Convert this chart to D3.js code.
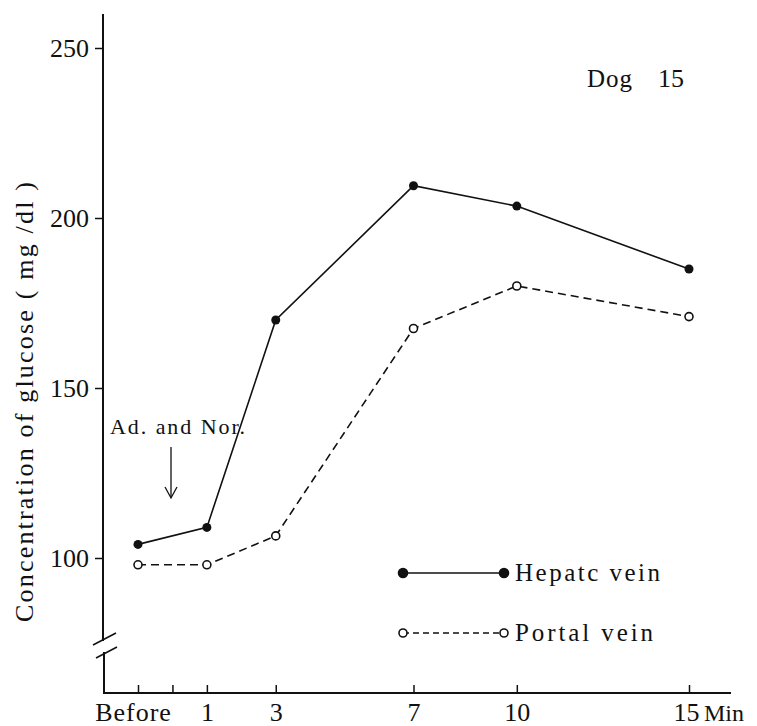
<!DOCTYPE html>
<html>
<head>
<meta charset="utf-8">
<script src="https://cdn.jsdelivr.net/npm/d3@7"></script>
<style>
    body { margin: 0; background: #fff; }
    text { font-family: "Liberation Serif", "DejaVu Serif", serif; fill: #111; }
</style>
</head>
<body>
<script>
// glucose, dog 15

var times = [-1, 1, 3, 7, 10, 15];
var hepatic = [104, 109, 170, 209.5, 203.5, 185];
var portal = [98, 98, 106.5, 167.5, 180, 171];

var xTicks = [-1, 0, 1, 3, 7, 10, 15];
var xTickLabels = ["Before", "", "1", "3", "7", "10", "15"];
var yTicks = [100, 150, 200, 250];

function draw_chart() {
    var width = 757;
    var height = 726;

    var svg = d3.select("body").append("svg")
                .attr("width", width)
                .attr("height", height);

    var x = d3.scaleLinear().domain([-1, 15]).range([138, 689]);
    var y = d3.scaleLinear().domain([100, 250]).range([558, 48]);

    var axisX = 103;
    var axisY = 693;

    // y axis (with break near the bottom)
    var yAxis = d3.axisLeft(y)
                  .tickValues(yTicks)
                  .tickSize(8)
                  .tickPadding(6)
                  .tickSizeOuter(0);

    var gy = svg.append("g")
                .attr("transform", "translate(" + axisX + ",0)")
                .call(yAxis);
    gy.select(".domain").remove();
    gy.selectAll(".tick line").attr("stroke", "#111").attr("stroke-width", 1.5);
    gy.selectAll(".tick text")
      .attr("font-size", 26)
      .attr("font-family", "Liberation Serif")
      .attr("fill", "#111");

    svg.append("line")
       .attr("x1", axisX).attr("x2", axisX)
       .attr("y1", 14).attr("y2", 641)
       .attr("stroke", "#111").attr("stroke-width", 2);
    svg.append("line")
       .attr("x1", axisX + 1).attr("x2", axisX + 1)
       .attr("y1", 652).attr("y2", axisY)
       .attr("stroke", "#111").attr("stroke-width", 2);

    // break marks
    svg.append("line")
       .attr("x1", 93).attr("y1", 645).attr("x2", 116).attr("y2", 633)
       .attr("stroke", "#111").attr("stroke-width", 1.5);
    svg.append("line")
       .attr("x1", 96).attr("y1", 658).attr("x2", 117).attr("y2", 647)
       .attr("stroke", "#111").attr("stroke-width", 1.5);

    // x axis, ticks pointing up
    var xAxis = d3.axisBottom(x)
                  .tickValues(xTicks)
                  .tickFormat(function(d, i) { return xTickLabels[i]; })
                  .tickSizeInner(-8)
                  .tickSizeOuter(0)
                  .tickPadding(10);

    var gx = svg.append("g")
                .attr("transform", "translate(0," + axisY + ")")
                .call(xAxis);
    gx.select(".domain").remove();
    gx.selectAll(".tick line").attr("stroke", "#111").attr("stroke-width", 1.5);
    gx.selectAll(".tick text")
      .attr("font-size", 26)
      .attr("font-family", "Liberation Serif")
      .attr("fill", "#111");
    gx.selectAll(".tick text")
      .filter(function(d) { return d === -1; })
      .attr("dx", -5)
      .attr("letter-spacing", 1);
    gx.selectAll(".tick text")
      .filter(function(d) { return d === 15; })
      .attr("dx", -3);

    svg.append("line")
       .attr("x1", axisX).attr("x2", 731)
       .attr("y1", axisY).attr("y2", axisY)
       .attr("stroke", "#111").attr("stroke-width", 2);

    svg.append("text")
       .attr("x", 704).attr("y", 721)
       .attr("font-size", 24)
       .text("Min");

    // y title
    svg.append("text")
       .attr("transform", "translate(33,402) rotate(-90)")
       .attr("text-anchor", "middle")
       .attr("font-size", 26)
       .attr("textLength", 440)
       .attr("lengthAdjust", "spacing")
       .text("Concentration of glucose ( mg /dl )");

    // lines
    var line = d3.line()
                 .x(function(d) { return x(d[0]); })
                 .y(function(d) { return y(d[1]); });

    var hepaticPts = times.map(function(t, i) { return [t, hepatic[i]]; });
    var portalPts = times.map(function(t, i) { return [t, portal[i]]; });

    svg.append("path")
       .datum(portalPts)
       .attr("d", line)
       .attr("fill", "none")
       .attr("stroke", "#111")
       .attr("stroke-width", 1.6)
       .attr("stroke-dasharray", "8,5");

    svg.append("path")
       .datum(hepaticPts)
       .attr("d", line)
       .attr("fill", "none")
       .attr("stroke", "#111")
       .attr("stroke-width", 1.6);

    svg.selectAll("circle.hep")
       .data(hepaticPts)
       .enter()
       .append("circle")
       .attr("class", "hep")
       .attr("cx", function(d) { return x(d[0]); })
       .attr("cy", function(d) { return y(d[1]); })
       .attr("r", 4.5)
       .attr("fill", "#111");

    svg.selectAll("circle.por")
       .data(portalPts)
       .enter()
       .append("circle")
       .attr("class", "por")
       .attr("cx", function(d) { return x(d[0]); })
       .attr("cy", function(d) { return y(d[1]); })
       .attr("r", 4)
       .attr("fill", "#fff")
       .attr("stroke", "#111")
       .attr("stroke-width", 1.6);

    // annotation
    svg.append("text")
       .attr("x", 110).attr("y", 434)
       .attr("font-size", 22)
       .attr("textLength", 135)
       .attr("lengthAdjust", "spacing")
       .text("Ad. and Nor.");

    svg.append("line")
       .attr("x1", 171).attr("y1", 447).attr("x2", 171).attr("y2", 497)
       .attr("stroke", "#111").attr("stroke-width", 1.3);
    svg.append("path")
       .attr("d", "M165,487 L171,498 L177,487")
       .attr("fill", "none")
       .attr("stroke", "#111").attr("stroke-width", 1.3);

    // Dog 15
    svg.append("text")
       .attr("x", 587).attr("y", 87)
       .attr("font-size", 25)
       .attr("fill", "#333")
       .attr("textLength", 45)
       .text("Dog");
    svg.append("text")
       .attr("x", 658).attr("y", 87)
       .attr("font-size", 26)
       .text("15");

    // legend
    var legend = [
        { label: "Hepatc vein", y: 573, dash: null, fill: "#111", r: 4.5, len: 145 },
        { label: "Portal vein", y: 633, dash: "6,4", fill: "#fff", r: 4, len: 138 }
    ];

    var lg = svg.selectAll("g.legend")
                .data(legend)
                .enter()
                .append("g")
                .attr("class", "legend");

    lg.append("line")
      .attr("x1", 403).attr("x2", 504)
      .attr("y1", function(d) { return d.y; })
      .attr("y2", function(d) { return d.y; })
      .attr("stroke", "#111")
      .attr("stroke-width", 1.6)
      .attr("stroke-dasharray", function(d) { return d.dash; });

    [403, 504].forEach(function(cx) {
        lg.append("circle")
          .attr("cx", cx)
          .attr("cy", function(d) { return d.y; })
          .attr("r", function(d) { return d.r; })
          .attr("fill", function(d) { return d.fill; })
          .attr("stroke", "#111")
          .attr("stroke-width", 1.6);
    });

    lg.append("text")
      .attr("x", 515)
      .attr("y", function(d) { return d.y + 8; })
      .attr("font-size", 25)
      .attr("fill", "#333")
      .attr("textLength", function(d) { return d.len; })
      .attr("lengthAdjust", "spacing")
      .text(function(d) { return d.label; });
}

document.addEventListener("DOMContentLoaded", draw_chart);
</script>
</body>
</html>
